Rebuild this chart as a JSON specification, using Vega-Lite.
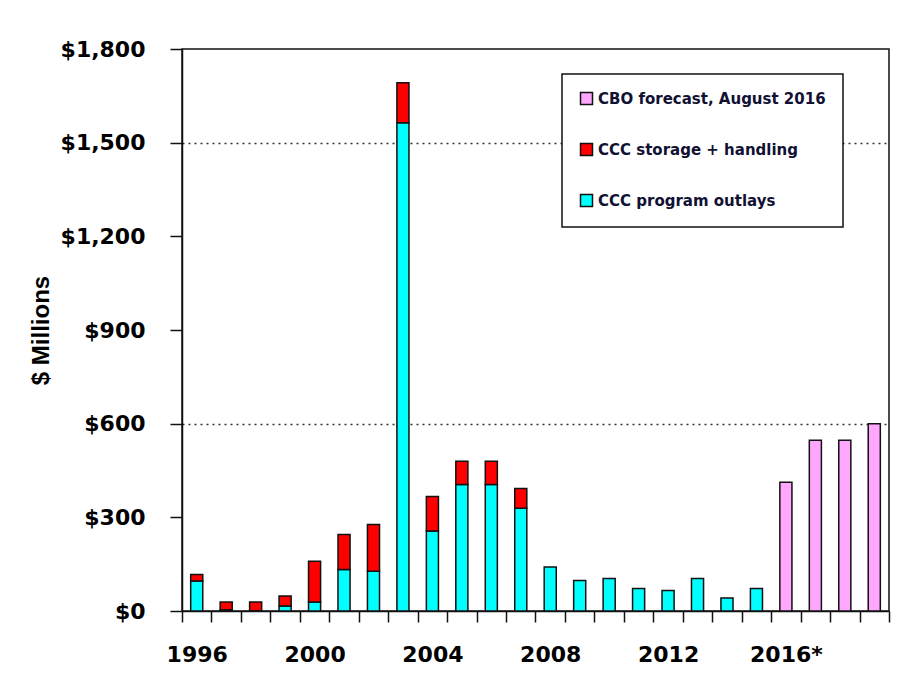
{
  "$schema": "https://vega.github.io/schema/vega-lite/v6.json",
  "width": 707,
  "height": 562,
  "autosize": {"type": "none"},
  "padding": {"left": 182, "top": 49, "right": 31, "bottom": 87},
  "background": "white",
  "data": {
    "values": [
      {"year": 1996, "series": "CCC program outlays", "value": 96},
      {"year": 1996, "series": "CCC storage + handling", "value": 21},
      {"year": 1997, "series": "CCC program outlays", "value": 4},
      {"year": 1997, "series": "CCC storage + handling", "value": 25},
      {"year": 1998, "series": "CCC program outlays", "value": 1},
      {"year": 1998, "series": "CCC storage + handling", "value": 28},
      {"year": 1999, "series": "CCC program outlays", "value": 16},
      {"year": 1999, "series": "CCC storage + handling", "value": 32},
      {"year": 2000, "series": "CCC program outlays", "value": 29},
      {"year": 2000, "series": "CCC storage + handling", "value": 130},
      {"year": 2001, "series": "CCC program outlays", "value": 133},
      {"year": 2001, "series": "CCC storage + handling", "value": 112},
      {"year": 2002, "series": "CCC program outlays", "value": 127},
      {"year": 2002, "series": "CCC storage + handling", "value": 150},
      {"year": 2003, "series": "CCC program outlays", "value": 1564},
      {"year": 2003, "series": "CCC storage + handling", "value": 128},
      {"year": 2004, "series": "CCC program outlays", "value": 256},
      {"year": 2004, "series": "CCC storage + handling", "value": 111},
      {"year": 2005, "series": "CCC program outlays", "value": 405},
      {"year": 2005, "series": "CCC storage + handling", "value": 75},
      {"year": 2006, "series": "CCC program outlays", "value": 405},
      {"year": 2006, "series": "CCC storage + handling", "value": 75},
      {"year": 2007, "series": "CCC program outlays", "value": 329},
      {"year": 2007, "series": "CCC storage + handling", "value": 63},
      {"year": 2008, "series": "CCC program outlays", "value": 141},
      {"year": 2009, "series": "CCC program outlays", "value": 98},
      {"year": 2010, "series": "CCC program outlays", "value": 104},
      {"year": 2011, "series": "CCC program outlays", "value": 72},
      {"year": 2012, "series": "CCC program outlays", "value": 66},
      {"year": 2013, "series": "CCC program outlays", "value": 104},
      {"year": 2014, "series": "CCC program outlays", "value": 42},
      {"year": 2015, "series": "CCC program outlays", "value": 72},
      {"year": 2016, "series": "CBO forecast, August 2016", "value": 412},
      {"year": 2017, "series": "CBO forecast, August 2016", "value": 547},
      {"year": 2018, "series": "CBO forecast, August 2016", "value": 547},
      {"year": 2019, "series": "CBO forecast, August 2016", "value": 600}
    ]
  },
  "mark": {"type": "bar", "stroke": "#111111", "strokeWidth": 1.5, "width": {"band": 0.41}},
  "encoding": {
    "x": {
      "field": "year",
      "type": "ordinal",
      "scale": {"paddingInner": 0, "paddingOuter": 0},
      "axis": {
        "title": null,
        "labelAngle": 0,
        "tickBand": "extent",
        "tickSize": 11,
        "tickWidth": 1.5,
        "tickColor": "#111111",
        "domainColor": "#111111",
        "domainWidth": 1.5,
        "labelPadding": 22,
        "labelFont": "DejaVu Sans",
        "labelFontWeight": "bold",
        "labelFontSize": 22,
        "labelColor": "#000000",
        "labelExpr": "datum.value % 4 == 0 ? (datum.value == 2016 ? '2016*' : datum.label) : ''"
      }
    },
    "y": {
      "field": "value",
      "type": "quantitative",
      "aggregate": "sum",
      "stack": "zero",
      "scale": {"domain": [0, 1800], "nice": false},
      "axis": {
        "title": "$ Millions",
        "titleFont": "Liberation Sans",
        "titleFontWeight": "bold",
        "titleFontSize": 24,
        "titleColor": "#000000",
        "titleX": -141,
        "titleBaseline": "middle",
        "values": [0, 300, 600, 900, 1200, 1500, 1800],
        "format": "$,.0f",
        "tickSize": 12,
        "tickWidth": 1.5,
        "tickColor": "#111111",
        "domainColor": "#111111",
        "domainWidth": 1.5,
        "labelPadding": 25,
        "labelFont": "DejaVu Sans",
        "labelFontWeight": "bold",
        "labelFontSize": 22,
        "labelColor": "#000000",
        "grid": true,
        "gridColor": "#333333",
        "gridDash": [2, 4],
        "gridWidth": 1.5,
        "gridOpacity": {"condition": {"test": "datum.value == 600 || datum.value == 1500", "value": 1}, "value": 0}
      }
    },
    "order": {"field": "series", "sort": "ascending"},
    "color": {
      "field": "series",
      "type": "nominal",
      "scale": {
        "domain": ["CBO forecast, August 2016", "CCC storage + handling", "CCC program outlays"],
        "range": ["#ffa6ff", "#ff0000", "#00ffff"]
      },
      "legend": {
        "title": null,
        "orient": "none",
        "legendX": 380,
        "legendY": 25,
        "padding": 17,
        "strokeColor": "#111111",
        "fillColor": "white",
        "symbolType": "square",
        "symbolSize": 144,
        "symbolStrokeColor": "#111111",
        "symbolStrokeWidth": 1.5,
        "symbolOpacity": 1,
        "labelOffset": 4,
        "rowPadding": 32,
        "labelFont": "DejaVu Sans",
        "labelFontWeight": "bold",
        "labelFontSize": 15,
        "labelColor": "#111133",
        "labelLimit": 400,
        "encode": {"legend": {"update": {"strokeWidth": {"value": 1.5}}}}
      }
    }
  },
  "config": {
    "view": {"stroke": "#111111", "strokeWidth": 1.5}
  }
}
